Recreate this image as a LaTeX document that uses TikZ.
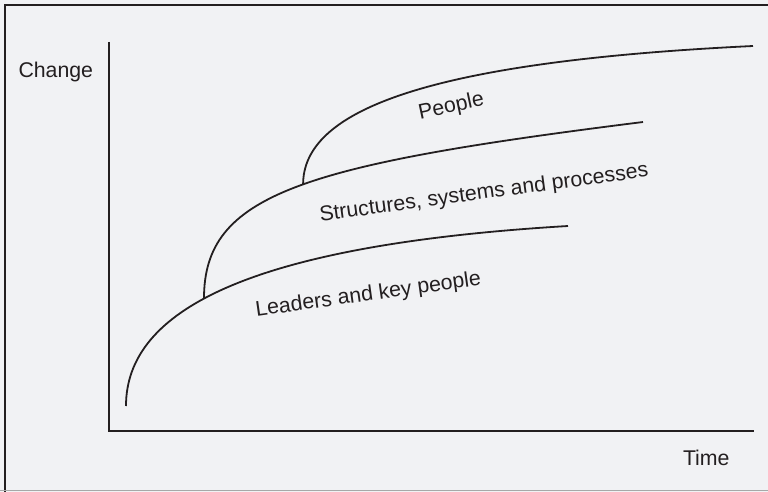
\documentclass[tikz,border=0pt]{standalone}
\usepackage{fontspec}
\setmainfont{Liberation Sans}
\definecolor{bg}{HTML}{F1F2F4}
\definecolor{ink}{HTML}{231F20}
\definecolor{rim}{HTML}{A8A8A8}
\begin{document}
\begin{tikzpicture}[x=1pt,y=-1pt,
  axisline/.style={draw=ink,line width=1.9pt},
  curveline/.style={draw=ink,line width=1.8pt},
  lbl/.style={inner sep=0pt,outer sep=0pt,text=ink,font=\fontsize{21.3}{25}\selectfont},
  rot/.style={lbl,anchor=base west}]
\fill[bg] (0,0) rectangle (768,492);
\useasboundingbox (0,0) rectangle (768,492);
% frame
\draw[ink,line width=2pt] (5,492) -- (5,5) -- (768,5);
\draw[rim,line width=1pt] (0,490.5) -- (768,490.5);
% axes
\coordinate (ytop) at (109,42);
\coordinate (orig) at (109,431);
\coordinate (xend) at (754,431);
\draw[axisline] (ytop) -- (orig) -- (xend);
\node[lbl,anchor=base west] (change) at (18.5,77.3) {Change};
\node[lbl,anchor=base west] (time) at (683,465) {Time};
% curves
\coordinate (s1) at (126,406);
\coordinate (e1) at (568,226);
\draw[curveline] (s1) .. controls (126,310) and (250,245) .. (e1) coordinate[pos=0.44] (j1);
\coordinate (e2) at (643,122);
\draw[curveline] (j1) .. controls ([yshift=104pt]j1) and (300,165) .. (e2) coordinate[pos=0.52] (j2);
\coordinate (e3) at (753,46);
\draw[curveline] (j2) .. controls ([yshift=72pt]j2) and (420,62) .. (e3);
% labels
\node[rot,rotate=12] (people) at (420,119) {People};
\node[rot,rotate=7.8] (ssp) at (320.5,221.5) {Structures, systems and processes};
\node[rot,rotate=8] (lkp) at (256.5,316.5) {Leaders and key people};
\end{tikzpicture}
\end{document}
